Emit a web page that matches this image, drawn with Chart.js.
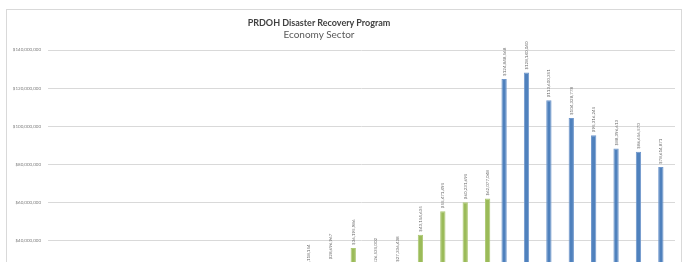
<!DOCTYPE html>
<html lang="en">
<head>
<meta charset="utf-8">
<title>PRDOH Disaster Recovery Program - Economy Sector</title>
<script src="https://cdn.jsdelivr.net/npm/chart.js@4.4.1/dist/chart.umd.min.js"></script>
<style>
  html, body { margin: 0; padding: 0; background: #fff; width: 693px; height: 262px; overflow: hidden; }
  #chartBox {
    position: absolute; left: 6px; top: 9px;
    width: 674px; height: 353px;
    border: 1px solid #d9d9d9; background: #fff;
  }
  #chartTitle, #chartSubtitle {
    position: absolute; left: 0; width: 624px; text-align: center;
    font-family: Lato, "Liberation Sans", sans-serif; white-space: nowrap;
  }
  #chartTitle { top: 8px; font-size: 9px; line-height: 10px; font-weight: bold; color: #404040; }
  #chartSubtitle { top: 18px; font-size: 10px; line-height: 12px; color: #595959; }
  canvas { position: absolute; left: 0; top: 0; }
</style>
</head>
<body>
<div id="chartBox">
  <canvas id="economyChart" width="674" height="353"></canvas>
  <div id="chartTitle">PRDOH Disaster Recovery Program</div>
  <div id="chartSubtitle">Economy Sector</div>
</div>
<script>
// categories (quarters)
const quarters = [
  'Q1 2019', 'Q2 2019', 'Q3 2019', 'Q4 2019',
  'Q1 2020', 'Q2 2020', 'Q3 2020', 'Q4 2020',
  'Q1 2021', 'Q2 2021', 'Q3 2021', 'Q4 2021',
  'Q1 2022', 'Q2 2022', 'Q3 2022', 'Q4 2022',
  'Q1 2023', 'Q2 2023', 'Q3 2023', 'Q4 2023',
  'Q1 2024', 'Q2 2024', 'Q3 2024', 'Q4 2024',
  'Q1 2025', 'Q2 2025', 'Q3 2025', 'Q4 2025'
];

// projected expenditure (blue)
const projectedValues = [
  null, null, null, null, null, null, null, null, null, null,
  null, null, null, null, null, null, null, null, null, null,
  124848568, 128140040, 113600351, 104328778,
  95316245, 88396613, 86656570, 78614871
];

// actual expenditure (green)
const actualValues = [
  0, 0, 152340, 1204512, 2917380, 4105226, 5630118, 7318402, 8812695, 9904310,
  10412876, 23118154, 28696967, 36195986, 26535002, 27336438,
  43154635, 55471495, 60231695, 62077048,
  null, null, null, null, null, null, null, null
];

// y axis ticks
const yTickValues = [0, 20000000, 40000000, 60000000, 80000000, 100000000, 120000000, 140000000];

const seriesNames = ['Projected', 'Actual'];
const blue = '#4f81bd';
const green = '#9bbb59';
const tinyFont = { family: 'Lato, "Liberation Sans", sans-serif', size: 4.5 };

function money(v) {
  return '$' + Math.round(v).toLocaleString('en-US');
}

/**
 * rotated value labels above each bar
 */
const barValueLabels = {
  id: 'barValueLabels',
  afterDatasetsDraw(chart) {
    const ctx = chart.ctx;
    ctx.save();
    ctx.font = `${tinyFont.size}px ${tinyFont.family}`;
    ctx.fillStyle = '#6b6b6b';
    ctx.textAlign = 'left';
    ctx.textBaseline = 'middle';
    chart.data.datasets.forEach((ds, di) => {
      const meta = chart.getDatasetMeta(di);
      meta.data.forEach((bar, i) => {
        const v = ds.data[i];
        if (v === null || v === undefined) return;
        ctx.save();
        ctx.translate(bar.x, bar.y - 3);
        ctx.rotate(-Math.PI / 2);
        ctx.fillText(money(v), 0, 0);
        ctx.restore();
      });
    });
    ctx.restore();
  }
};

new Chart(document.getElementById('economyChart'), {
  type: 'bar',
  data: {
    labels: quarters,
    datasets: [
      {
        label: seriesNames[0],
        data: projectedValues,
        backgroundColor: blue,
        borderColor: '#6f97cc',
        borderWidth: { left: 1, right: 1, top: 1, bottom: 0 }
      },
      {
        label: seriesNames[1],
        data: actualValues,
        backgroundColor: green,
        borderColor: '#adc874',
        borderWidth: { left: 1, right: 1, top: 1, bottom: 0 }
      }
    ]
  },
  options: {
    responsive: false,
    animation: false,
    categoryPercentage: 0.527,
    barPercentage: 0.9,
    layout: { padding: { top: 40, right: 6, bottom: 6, left: 0 } },
    plugins: {
      title: { display: false },
      tooltip: { enabled: false },
      legend: {
        position: 'bottom',
        labels: { font: { family: tinyFont.family, size: 6 }, color: '#595959', boxWidth: 6, boxHeight: 6, padding: 8 }
      }
    },
    scales: {
      x: {
        grid: { display: false },
        border: { color: '#d9d9d9' },
        ticks: { font: tinyFont, color: '#7f7f7f', autoSkip: false, maxRotation: 0, minRotation: 0 },
        afterFit(scale) { scale.height = 16; }
      },
      y: {
        min: 0,
        max: 140000000,
        border: { display: false },
        grid: { color: '#d9d9d9', drawTicks: false },
        afterBuildTicks(scale) { scale.ticks = yTickValues.map(v => ({ value: v })); },
        ticks: { font: tinyFont, color: '#7f7f7f', padding: 7, callback: v => money(v) },
        afterFit(scale) { scale.width = 41; }
      }
    }
  },
  plugins: [barValueLabels]
});
</script>
</body>
</html>
